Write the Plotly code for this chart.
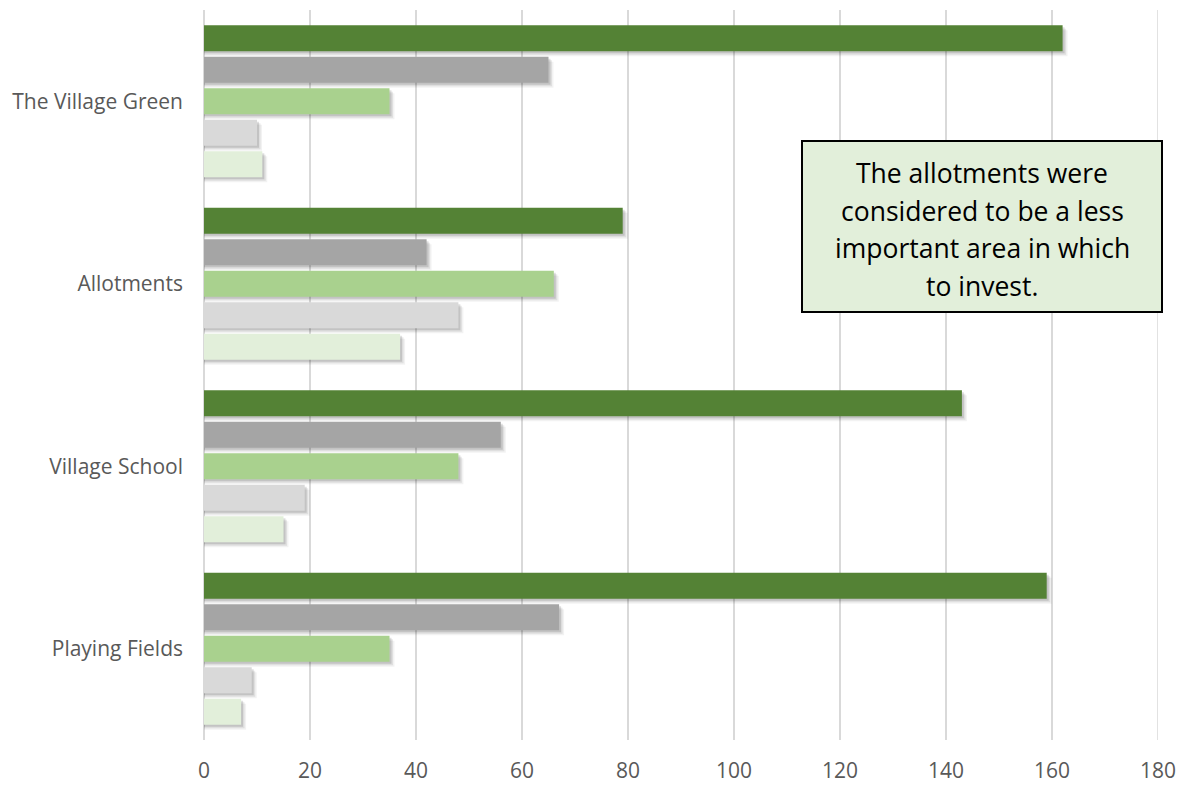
import plotly.graph_objects as go

categories = ["Playing Fields", "Village School", "Allotments", "The Village Green"]
# series listed top-to-bottom within each group
series_names = ["Series 1", "Series 2", "Series 3", "Series 4", "Series 5"]
s1 = [159, 143, 79, 162]
s2 = [67, 56, 42, 65]
s3 = [35, 48, 66, 35]
s4 = [9, 19, 48, 10]
s5 = [7, 15, 37, 11]
colors = ["#548235", "#a5a5a5", "#a9d18e", "#d9d9d9", "#e2efda"]
x_ticks = [0, 20, 40, 60, 80, 100, 120, 140, 160, 180]
note_lines = ["The allotments were", "considered to be a less",
              "important area in which", "to invest."]

all_series = [s1, s2, s3, s4, s5]

# page body adds an 8px margin, so the figure is shifted by 8px
OFF = 8
W, H = 1181 - OFF, 785 - OFF
ML, MR, MT, MB = 204 - OFF, 23, 10 - OFF, 45
plot_w = W - ML - MR
plot_h = H - MT - MB
band_px = plot_h / len(categories)
x_px = plot_w / 180.0
# screen position of plot area
PX0, PY1 = ML + OFF, MT + OFF + plot_h

group_frac = 0.863
n = len(all_series)
slot = group_frac / n
bar_w = slot * 0.825

fig = go.Figure()

# soft drop shadows (drawn first, beneath the bars)
shadow_layers = [(5, 5, 0.05), (3.5, 3.5, 0.08), (2, 2, 0.12)]
for dx, dy, a in shadow_layers:
    for i, vals in enumerate(all_series):
        center = group_frac / 2 - slot * (i + 0.5)
        fig.add_trace(go.Bar(
            y=categories, x=[v + dx / x_px for v in vals], orientation="h",
            offset=center - bar_w / 2 - dy / band_px, width=bar_w,
            marker=dict(color=f"rgba(0,0,0,{a})", line=dict(width=0)),
            hoverinfo="skip", showlegend=False,
        ))

for i, (name, vals, col) in enumerate(zip(series_names, all_series, colors)):
    center = group_frac / 2 - slot * (i + 0.5)
    fig.add_trace(go.Bar(
        y=categories, x=vals, name=name, orientation="h",
        offset=center - bar_w / 2, width=bar_w,
        marker=dict(color=col, line=dict(width=0)),
    ))

annotations = []
line_y = [173, 211, 248, 286]
for txt, yy in zip(note_lines, line_y):
    annotations.append(dict(
        xref="paper", yref="paper",
        x=(982 - PX0) / plot_w, y=(PY1 - yy) / plot_h,
        xanchor="center", yanchor="middle", text=txt, showarrow=False,
        font=dict(family="Open Sans", size=26.5, color="#000000"),
    ))

fig.update_layout(
    width=W, height=H,
    margin=dict(l=ML, r=MR, t=MT, b=MB),
    paper_bgcolor="white", plot_bgcolor="white",
    barmode="overlay",
    showlegend=False,
    font=dict(family="Open Sans", size=21, color="#595959"),
    xaxis=dict(
        range=[0, 180], tickvals=x_ticks, showgrid=True,
        gridcolor="#d9d9d9", gridwidth=1.5, zeroline=True,
        zerolinecolor="#d9d9d9", zerolinewidth=1.5,
        showline=False, ticks="", ticklabelstandoff=16,
        tickfont=dict(size=21, color="#595959"),
    ),
    yaxis=dict(
        categoryorder="array", categoryarray=categories,
        range=[-0.5, len(categories) - 0.5],
        showgrid=False, showline=False, ticks="", ticklabelstandoff=20,
        tickfont=dict(size=21, color="#595959"),
    ),
    shapes=[
        dict(
            type="line", xref="x", yref="paper",
            x0=x_ticks[-1], x1=x_ticks[-1], y0=0, y1=1,
            line=dict(color="#d9d9d9", width=1.5), layer="below",
        ),
        dict(
            type="rect", xref="paper", yref="paper",
            x0=(802 - PX0) / plot_w, x1=(1162 - PX0) / plot_w,
            y0=(PY1 - 312) / plot_h, y1=(PY1 - 141) / plot_h,
            fillcolor="#e2efda", line=dict(color="#000000", width=2),
            layer="above",
        ),
    ],
    annotations=annotations,
)

fig.write_html(
    "out.html",
    config={"displayModeBar": False},
    post_script="document.documentElement.style.overflow='hidden';document.body.style.overflow='visible';document.body.style.marginRight='0px';",
)
